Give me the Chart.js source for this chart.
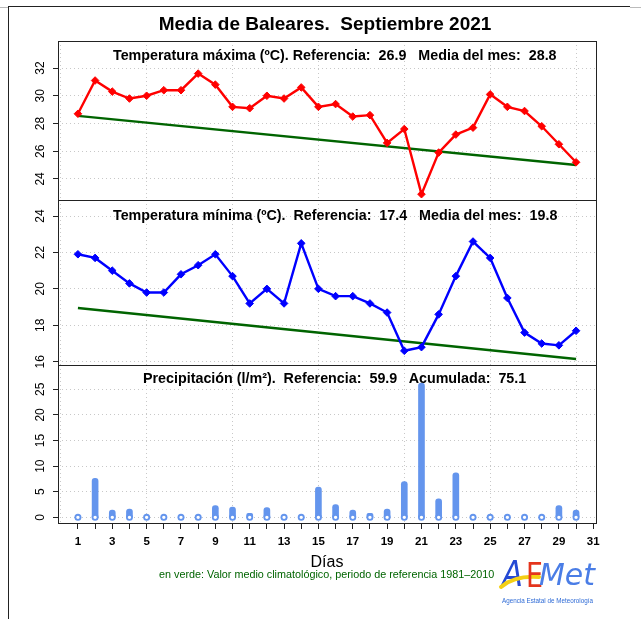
<!DOCTYPE html>
<html lang="es">
<head>
<meta charset="utf-8">
<title>Media de Baleares. Septiembre 2021</title>
<script src="https://cdn.jsdelivr.net/npm/chart.js@4.4.0/dist/chart.umd.min.js"></script>
<style>
  html, body { margin: 0; padding: 0; background: #fff; }
  body { width: 641px; height: 619px; position: relative; overflow: hidden;
         font-family: "Liberation Sans", Arial, Helvetica, sans-serif; }
  canvas { position: absolute; left: 0; top: 0; }
  .txt { position: absolute; white-space: pre; line-height: 1; color: #000; }
  .rule { position: absolute; }
</style>
</head>
<body>
<div class="rule" style="left:8px;top:6px;width:1px;height:613px;background:#222"></div>
<div class="rule" style="left:8px;top:6px;width:622px;height:1px;background:#222"></div>
<div class="rule" style="left:0;top:7px;width:8px;height:1px;background:#bbb"></div>
<div class="rule" style="left:630px;top:7px;width:11px;height:1px;background:#bbb"></div>

<canvas id="cMax" width="641" height="619"></canvas>
<canvas id="cMin" width="641" height="619"></canvas>
<canvas id="cPrec" width="641" height="619"></canvas>

<div class="txt" style="left:325px;top:14px;transform:translateX(-50%);font-size:19px;font-weight:bold">Media de Baleares.  Septiembre 2021</div>
<div class="txt" style="left:113px;top:47.5px;font-size:14.3px;font-weight:bold">Temperatura máxima (ºC). Referencia:  26.9   Media del mes:  28.8</div>
<div class="txt" style="left:113px;top:208px;font-size:14.3px;font-weight:bold">Temperatura mínima (ºC).  Referencia:  17.4   Media del mes:  19.8</div>
<div class="txt" style="left:143px;top:371px;font-size:14.3px;font-weight:bold">Precipitación (l/m²).  Referencia:  59.9   Acumulada:  75.1</div>
<div class="txt" style="left:327px;top:554px;transform:translateX(-50%);font-size:16px">Días</div>
<div class="txt" style="left:159px;top:569px;font-size:10.8px;color:#006400">en verde: Valor medio climatológico, periodo de referencia 1981–2010</div>

<svg width="112" height="60" viewBox="0 0 112 60" style="position:absolute;left:495px;top:550px">
  <text x="7" y="36" font-size="36" font-family="DejaVu Sans" font-weight="200" font-style="italic" fill="#2449d4" textLength="21" lengthAdjust="spacingAndGlyphs">A</text>
  <path d="M6 37 C 14 30, 28 26, 44 27" stroke="#f4cf14" stroke-width="4" fill="none" stroke-linecap="round"/>
  <text x="31" y="37" font-size="34" font-family="DejaVu Sans" fill="#e4341c" textLength="17" lengthAdjust="spacingAndGlyphs">E</text>
  <text x="44" y="35" font-size="30" font-family="DejaVu Sans" font-style="italic" fill="#4a7de6" textLength="56" lengthAdjust="spacingAndGlyphs">Met</text>
  <text x="7" y="53" font-size="6.5" textLength="91" lengthAdjust="spacingAndGlyphs" font-family="Liberation Sans" fill="#2f6bd6">Agencia Estatal de Meteorología</text>
</svg>

<script>
// Días del mes
const days = [1, 2, 3, 4, 5, 6, 7, 8, 9, 10, 11, 12, 13, 14, 15,
              16, 17, 18, 19, 20, 21, 22, 23, 24, 25, 26, 27, 28, 29, 30];
const tickDays = [1, 2, 3, 4, 5, 6, 7, 8, 9, 10, 11, 12, 13, 14, 15, 16,
                  17, 18, 19, 20, 21, 22, 23, 24, 25, 26, 27, 28, 29, 30, 31];
const gridDays = [0, 5, 10, 15, 20, 25, 30];

// Temperatura máxima (ºC)
const tmax = [28.7, 31.1, 30.3, 29.8, 30.0, 30.4, 30.4, 31.6, 30.8, 29.2,
              29.1, 30.0, 29.8, 30.6, 29.2, 29.4, 28.5, 28.6, 26.6, 27.6,
              22.9, 25.9, 27.2, 27.7, 30.1, 29.2, 28.9, 27.8, 26.5, 25.2];
const climDays = [1, 30];
const tmaxClim = [28.55, 25.0];
const tmaxTicks = [24, 26, 28, 30, 32];

// Temperatura mínima (ºC)
const tmin = [21.9, 21.7, 21.0, 20.3, 19.8, 19.8, 20.8, 21.3, 21.9, 20.7,
              19.2, 20.0, 19.2, 22.5, 20.0, 19.6, 19.6, 19.2, 18.7, 16.6,
              16.8, 18.6, 20.7, 22.6, 21.7, 19.5, 17.6, 17.0, 16.9, 17.7];
const tminClim = [18.95, 16.15];
const tminTicks = [16, 18, 20, 22, 24];

// Precipitación (l/m2)
const prec = [0, 7.6, 1.4, 1.6, 0, 0, 0, 0, 2.3, 2.0,
              0.8, 1.9, 0, 0, 5.9, 2.5, 1.4, 0.8, 1.6, 7.0,
              26.2, 3.6, 8.7, 0, 0, 0, 0, 0, 2.3, 1.4];
const precTicks = [0, 5, 10, 15, 20, 25];

const W = 641, H = 619;
const PLOT_LEFT = 58, PLOT_RIGHT = 596;
const X_MIN = -0.16, X_MAX = 31.16;
const X_AXIS_H = 30;
const GRID = '#c8c8c8';

Chart.defaults.font.family = '"Liberation Sans", Arial, Helvetica, sans-serif';
Chart.defaults.color = '#000';

const pts = (xs, ys) => xs.map((x, i) => ({ x: x, y: ys[i] }));

// marco del panel y etiquetas del eje y giradas (como en R)
const panelPlugin = {
    id: 'panel',
    afterDraw(chart) {
        const { ctx, chartArea: a } = chart;
        const y = chart.scales.y;
        ctx.save();
        ctx.strokeStyle = '#222';
        ctx.lineWidth = 1;
        ctx.strokeRect(a.left + 0.5, a.top + 0.5, a.right - a.left, a.bottom - a.top);
        ctx.fillStyle = '#000';
        ctx.font = '12px "Liberation Sans", Arial, sans-serif';
        ctx.textAlign = 'center';
        ctx.textBaseline = 'middle';
        y.ticks.forEach(t => {
            ctx.save();
            ctx.translate(41, y.getPixelForValue(t.value));
            ctx.rotate(-Math.PI / 2);
            ctx.fillText(String(t.value), 0, 0);
            ctx.restore();
        });
        ctx.restore();
    }
};

function panelOptions(top, bottom, yMin, yMax, yTicks, showX) {
    const xh = showX ? X_AXIS_H : 0;
    return {
        responsive: false,
        animation: false,
        events: [],
        layout: { padding: { left: PLOT_LEFT, right: W - PLOT_RIGHT, top: top, bottom: H - bottom - xh } },
        plugins: { legend: { display: false }, tooltip: { enabled: false } },
        scales: {
            x: {
                type: 'linear', position: 'bottom', min: X_MIN, max: X_MAX, offset: false,
                afterBuildTicks: s => { s.ticks = tickDays.map(v => ({ value: v })); },
                afterFit: s => { s.height = xh; },
                ticks: {
                    display: showX, autoSkip: false, maxRotation: 0, minRotation: 0, padding: 5.5,
                    font: { size: 11.5, weight: 'bold' },
                    callback: v => (v % 2 === 1 ? String(v) : '')
                },
                grid: { offset: false, drawOnChartArea: false, drawTicks: showX, tickLength: 6, tickColor: '#222' },
                border: { display: false }
            },
            xg: {
                type: 'linear', position: 'bottom', min: X_MIN, max: X_MAX, offset: false,
                afterBuildTicks: s => { s.ticks = gridDays.map(v => ({ value: v })); },
                afterFit: s => { s.height = 0; },
                ticks: { display: false },
                grid: { offset: false, color: GRID, drawTicks: false },
                border: { display: false, dash: [1, 3] }
            },
            y: {
                type: 'linear', position: 'left', min: yMin, max: yMax,
                afterBuildTicks: s => { s.ticks = yTicks.map(v => ({ value: v })); },
                afterFit: s => { s.width = 0; },
                ticks: { display: false },
                grid: { color: GRID, tickColor: '#222', tickLength: 5, tickBorderDash: [] },
                border: { display: false, dash: [1, 3] }
            }
        }
    };
}

function tempChart(id, values, clim, color, top, bottom, yMin, yMax, yTicks) {
    return new Chart(document.getElementById(id), {
        type: 'line',
        data: {
            datasets: [{
                data: pts(days, values),
                xAxisID: 'x', yAxisID: 'y',
                borderColor: color,
                backgroundColor: color,
                borderWidth: 2.4,
                pointStyle: 'rectRot',
                pointRadius: 3.8,
                pointBorderWidth: 1,
                tension: 0,
                order: 0
            }, {
                data: pts(climDays, clim),
                xAxisID: 'x', yAxisID: 'y',
                borderColor: '#006400',
                borderWidth: 2.4,
                pointRadius: 0,
                order: 1
            }]
        },
        options: panelOptions(top, bottom, yMin, yMax, yTicks, false),
        plugins: [panelPlugin]
    });
}

tempChart('cMax', tmax, tmaxClim, '#ff0000', 41, 200, 22.48, 33.95, tmaxTicks);
tempChart('cMin', tmin, tminClim, '#0000ff', 200, 365, 15.82, 24.88, tminTicks);

new Chart(document.getElementById('cPrec'), {
    type: 'bar',
    data: {
        datasets: [{
            type: 'line',
            data: pts(days, days.map(() => 0)),
            xAxisID: 'x', yAxisID: 'y',
            showLine: false,
            pointRadius: 2.6,
            pointBorderWidth: 1.8,
            borderColor: '#6495ed',
            backgroundColor: '#ffffff',
            order: 0
        }, {
            type: 'bar',
            data: pts(days, prec),
            xAxisID: 'x', yAxisID: 'y',
            backgroundColor: '#6495ed',
            barThickness: 6,
            borderRadius: { topLeft: 3, topRight: 3 },
            borderSkipped: false,
            order: 1
        }]
    },
    options: panelOptions(365, 523, -1.1, 29.75, precTicks, true),
    plugins: [panelPlugin]
});
</script>
</body>
</html>
